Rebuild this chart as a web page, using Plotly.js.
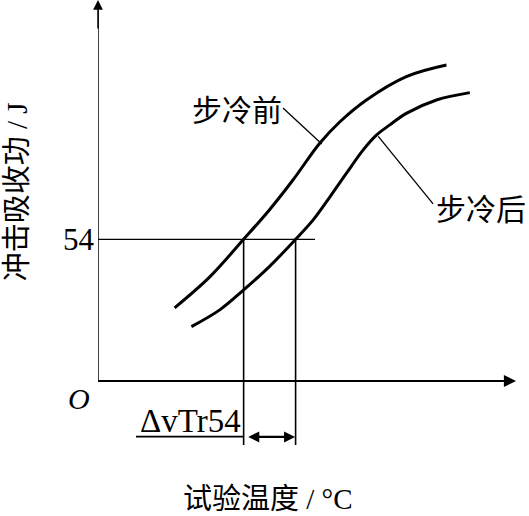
<!DOCTYPE html>
<html>
<head>
<meta charset="utf-8">
<script src="https://cdn.plot.ly/plotly-3.0.1.min.js"></script>
<style>html,body{margin:0;padding:0;background:#fff;}#chart{width:529px;height:516px;}</style>
</head>
<body>
<div id="chart"></div>
<script>
// ---- data (temperature in arbitrary schematic units, energy in J) ----
const seriesNames = ['步冷前', '步冷后'];
const beforeTemp   = [29.2, 42.6, 55.5, 65.3, 74.3, 84.5, 92.2, 102.3, 117.5, 132.8];
const beforeEnergy = [27.9, 39.7, 54.0, 65.2, 76.6, 90.6, 98.8, 107.1, 116.0, 120.4];
const afterTemp    = [35.6, 46.4, 55.5, 65.3, 75.3, 82.0, 88.4, 94.7, 101.0, 106.1, 111.2, 117.5, 129.0, 141.7];
const afterEnergy  = [20.7, 27.1, 34.7, 43.6, 54.0, 61.4, 70.2, 79.2, 88.0, 93.7, 97.6, 102.0, 107.1, 109.9];
const energyLevel = 54;          // criterion energy, J
const tBefore54 = 55.5;          // temperature where 步冷前 reaches 54 J
const tAfter54 = 75.3;           // temperature where 步冷后 reaches 54 J
const yTickVals = [54];
const yTickText = ['54'];
const xTitle = '试验温度 / °C';
const yTitle = '冲击吸收功 / J';
const shiftLabel = 'ΔvTr54';
const originLabel = 'O';

// ---- layout helpers ----
const serif = '"Liberation Serif", "Noto Sans CJK SC", serif';
const cjk = '"Noto Sans CJK SC", "Liberation Serif", serif';
const black = '#000';
const L = 98, R = 13, W = 529, H = 516;
const ppu = 2.624;
const xMax = (W - L - R) / ppu, yMax = 381 / ppu, yMin = -(H - 381) / ppu;
const px = v => (v - L) / (W - L - R);    // pixel x -> paper x
const py = v => 1 - v / H;                 // pixel y -> paper y

const traces = [
  {x: beforeTemp, y: beforeEnergy, name: seriesNames[0], mode: 'lines',
   line: {color: black, width: 3, shape: 'spline', smoothing: 1.0}, hoverinfo: 'skip'},
  {x: afterTemp, y: afterEnergy, name: seriesNames[1], mode: 'lines',
   line: {color: black, width: 3, shape: 'spline', smoothing: 1.0}, hoverinfo: 'skip'}
];

const thin = {color: black, width: 1.3};
const shapes = [
  // y axis
  {type: 'line', xref: 'x', yref: 'y', x0: 0, x1: 0, y0: 0, y1: yMax - 4, line: {color: black, width: 1.5}},
  // x axis
  {type: 'line', xref: 'x', yref: 'y', x0: 0, x1: xMax - 4, y0: 0, y1: 0, line: {color: black, width: 2.2}},
  // 54 J guide
  {type: 'line', xref: 'x', yref: 'y', x0: 0, x1: 82.7, y0: energyLevel, y1: energyLevel, line: thin},
  {type: 'line', xref: 'x', yref: 'y', x0: tBefore54, x1: tBefore54, y0: energyLevel, y1: -24.4, line: {color: black, width: 1.6}},
  {type: 'line', xref: 'x', yref: 'y', x0: tAfter54, x1: tAfter54, y0: energyLevel, y1: -24.4, line: {color: black, width: 1.6}},
  // leader lines
  {type: 'line', xref: 'x', yref: 'y', x0: 70.5, y0: 104.0, x1: 85.3, y1: 90.3, line: thin},
  {type: 'line', xref: 'x', yref: 'y', x0: 106.8, y0: 93.2, x1: 127.7, y1: 67.5, line: thin},
  // underline of ΔvTr54
  {type: 'line', xref: 'paper', yref: 'paper', x0: px(136), x1: px(244),
   y0: py(436.7), y1: py(436.7), line: {color: black, width: 1.8}}
];

const C = {xanchor: 'center', yanchor: 'middle', showarrow: false};
const annotations = [
  // axis arrow heads
  {x: 0, y: yMax, xref: 'x', yref: 'y', ax: 0, ay: 30, text: '', showarrow: true,
   arrowhead: 2, arrowsize: 1.3, arrowwidth: 1.5, arrowcolor: black},
  {x: xMax, y: 0, xref: 'x', yref: 'y', ax: -30, ay: 0, text: '', showarrow: true,
   arrowhead: 2, arrowsize: 1.1, arrowwidth: 2.2, arrowcolor: black},
  // ΔvTr54 double arrow
  {x: 75.1, y: -21.3, xref: 'x', yref: 'y', ax: 56.7, ay: -21.3, axref: 'x', ayref: 'y',
   text: '', showarrow: true, arrowside: 'end+start', arrowhead: 2, arrowsize: 1, arrowwidth: 2.2, arrowcolor: black},
  Object.assign({x: 35.4, y: -15.4, xref: 'x', yref: 'y', text: shiftLabel,
   font: {family: serif, size: 33, color: black}}, C),
  // curve labels
  Object.assign({x: 52.8, y: 104.2, xref: 'x', yref: 'y', text: seriesNames[0],
   font: {family: cjk, size: 30, color: black}}, C),
  Object.assign({x: 146.0, y: 66.3, xref: 'x', yref: 'y', text: seriesNames[1],
   font: {family: cjk, size: 30, color: black}}, C),
  // origin
  Object.assign({x: px(78.5), y: py(398), xref: 'paper', yref: 'paper', text: '<i>' + originLabel + '</i>',
   font: {family: serif, size: 30, color: black}}, C),
  // axis titles
  Object.assign({x: px(268), y: py(499), xref: 'paper', yref: 'paper', text: xTitle,
   font: {family: serif, size: 29, color: black}}, C),
  Object.assign({x: px(16.7), y: py(191.5), xref: 'paper', yref: 'paper', text: yTitle, textangle: -90,
   font: {family: serif, size: 29, color: black}}, C)
];

const layout = {
  width: W, height: H,
  margin: {l: L, r: R, t: 0, b: 0, pad: 0},
  paper_bgcolor: '#fff', plot_bgcolor: '#fff',
  showlegend: false,
  xaxis: {range: [0, xMax], showgrid: false, zeroline: false, showline: false,
          showticklabels: false, ticks: '', fixedrange: true},
  yaxis: {range: [yMin, yMax], showgrid: false, zeroline: false, showline: false,
          tickmode: 'array', tickvals: yTickVals, ticktext: yTickText, ticks: '', ticklabelstandoff: 3,
          tickfont: {family: serif, size: 31, color: black}, fixedrange: true},
  shapes: shapes,
  annotations: annotations
};

Plotly.newPlot('chart', traces, layout, {staticPlot: true, displayModeBar: false});
</script>
</body>
</html>
